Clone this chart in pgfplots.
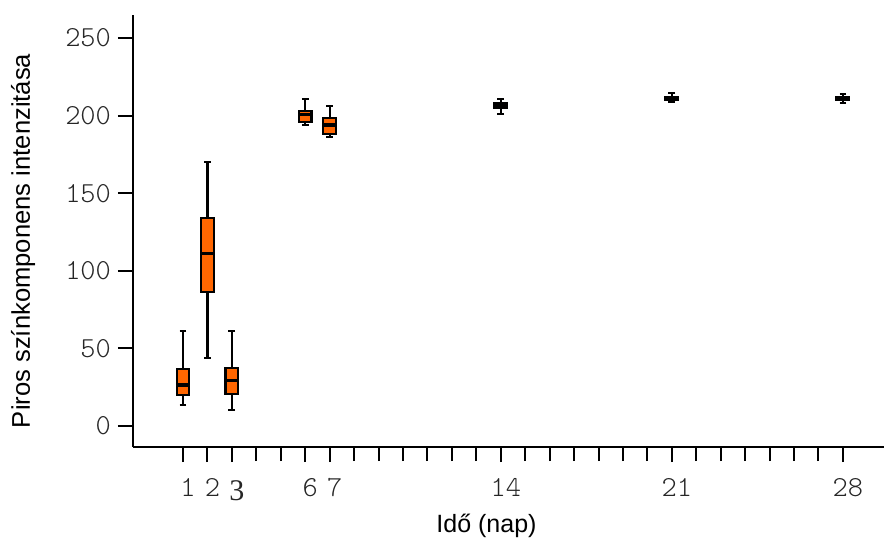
\documentclass[border=0pt]{standalone}
\usepackage{pgfplots}
\pgfplotsset{compat=1.18}
\usepgfplotslibrary{statistics}
\usepackage{fontspec}
\setmainfont{Liberation Sans}
\newfontfamily\monofont{Latin Modern Mono Light}
\newfontfamily\seriffont{Liberation Serif}
\definecolor{boxorange}{HTML}{FF6600}
\begin{document}
\begin{tikzpicture}
\begin{axis}[
  scale only axis, width=375.5pt, height=216pt,
  xmin=-1.046, xmax=29.68, ymin=-13.5, ymax=264.8,
  axis lines=left, axis line style={-, line width=1pt, black},
  tick align=outside, major tick length=7.5pt, minor tick length=7pt,
  every tick/.style={line width=1pt, black},
  xtick pos=bottom, ytick pos=left,
  xtick={1,2,3,6,7,14,21,28},
  xticklabels={1,2,{\seriffont\fontsize{15}{15}\selectfont\raisebox{-2pt}{3}},6,7,14,21,28},
  minor xtick={4,5,8,9,10,11,12,13,15,16,17,18,19,20,22,23,24,25,26,27},
  ytick={0,50,100,150,200,250},
  /pgf/number format/assume math mode=true,
  tick label style={font=\monofont\fontsize{14.5}{14.5}\selectfont, text=black!85},
  xticklabel style={anchor=base, yshift=-17pt, xshift=2.5pt},
  every axis x label/.style={at={([yshift=-42.5pt]rel axis cs:0.4707,0)}, anchor=base, font=\fontsize{12.5}{12.5}\selectfont},
  every axis y label/.style={at={([xshift=-51.5pt]rel axis cs:0,0.477)}, rotate=90, anchor=base, font=\fontsize{12.8}{12.8}\selectfont},
  xlabel={Idő (nap)},
  ylabel={Piros színkomponens intenzitása},
  boxplot/draw direction=y,
  boxplot/box extend=0.52,
  boxplot/whisker extend=0.28,
  boxplot/every median/.style={line width=1.6pt},
  clip=false,
]
\coordinate (sw) at (rel axis cs:0,0);
\addplot[draw=black, line width=1.1pt, fill=boxorange, boxplot prepared={draw position=1, lower whisker=13.5, lower quartile=20, median=26.4, upper quartile=36.7, upper whisker=61.2}] coordinates {};
\addplot[draw=black, line width=1.1pt, fill=boxorange, boxplot prepared={draw position=2, lower whisker=44, lower quartile=86.5, median=111, upper quartile=134.2, upper whisker=170.3}] coordinates {};
\addplot[draw=black, line width=1.1pt, fill=boxorange, boxplot prepared={draw position=3, lower whisker=10.3, lower quartile=20.4, median=29.2, upper quartile=37.2, upper whisker=61.2}] coordinates {};
\addplot[draw=black, line width=1.1pt, fill=boxorange, boxplot prepared={draw position=6, lower whisker=194, lower quartile=196, median=200.5, upper quartile=203.2, upper whisker=210.7}] coordinates {};
\addplot[draw=black, line width=1.1pt, fill=boxorange, boxplot prepared={draw position=7, lower whisker=186.4, lower quartile=188, median=194, upper quartile=198.2, upper whisker=206.4}] coordinates {};
\addplot[draw=black, line width=1.1pt, fill=boxorange, boxplot prepared={draw position=14, lower whisker=201, lower quartile=205.1, median=206.5, upper quartile=207.9, upper whisker=210.5}] coordinates {};
\addplot[draw=black, line width=1.1pt, fill=boxorange, boxplot prepared={draw position=21, lower whisker=209, lower quartile=210, median=211.2, upper quartile=212.2, upper whisker=214.4}] coordinates {};
\addplot[draw=black, line width=1.1pt, fill=boxorange, boxplot prepared={draw position=28, lower whisker=207.9, lower quartile=210, median=211.2, upper quartile=212.2, upper whisker=213.7}] coordinates {};
\end{axis}
\pgfresetboundingbox
\path ([shift={(-66.5pt,-45.5pt)}]sw) rectangle ([shift={(375.5pt,223.5pt)}]sw);
\end{tikzpicture}
\end{document}
